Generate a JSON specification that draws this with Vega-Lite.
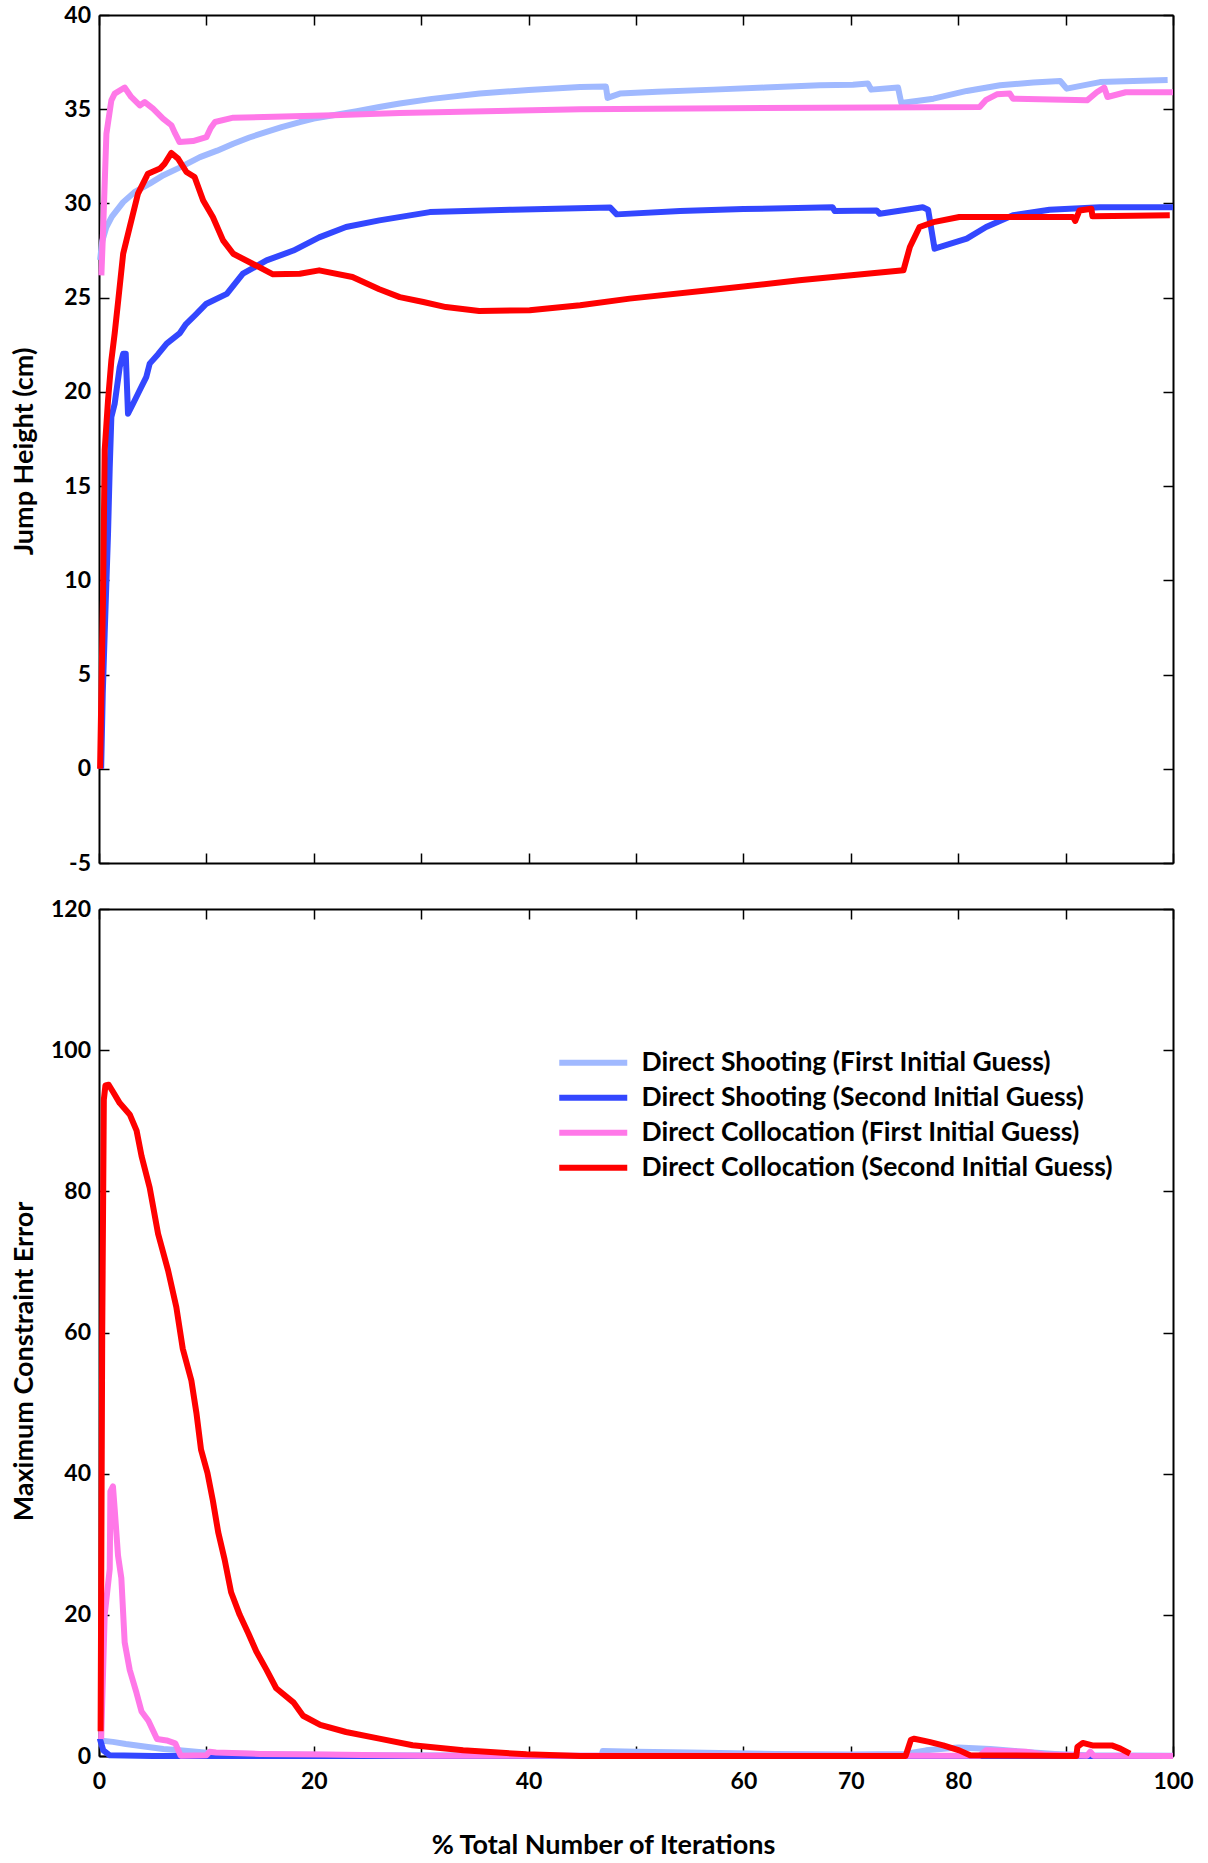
{
"$schema": "https://vega.github.io/schema/vega-lite/v6.json",
"background": "white",
"padding": {"left": 10, "top": 4, "right": 0, "bottom": 0},
"autosize": {"type": "pad"},
"config": {
 "view": {"stroke": null},
 "font": "Lato",
 "axis": {"domainColor": "black", "domainWidth": 2, "tickColor": "black", "tickWidth": 1.5, "tickSize": -10, "grid": false, "labelFlush": false,
  "labelFont": "Lato", "labelFontSize": 23, "labelFontWeight": "bold", "labelColor": "black",
  "titleFont": "Lato", "titleFontSize": 27, "titleFontWeight": "bold", "titleColor": "black"}
},
"datasets": {
"top": [
{"s":"A","x":0.1,"y":27.0},{"s":"A","x":0.3,"y":28.0},{"s":"A","x":0.69,"y":28.75},{"s":"A","x":1.2,"y":29.3},{"s":"A","x":2.25,"y":30.07},{"s":"A","x":3.3,"y":30.6},{"s":"A","x":4.72,"y":31.05},{"s":"A","x":6,"y":31.5},{"s":"A","x":7.5,"y":31.9},{"s":"A","x":9.4,"y":32.46},{"s":"A","x":11,"y":32.8},{"s":"A","x":12.5,"y":33.17},{"s":"A","x":14,"y":33.5},{"s":"A","x":15.6,"y":33.8},{"s":"A","x":17,"y":34.05},{"s":"A","x":18.7,"y":34.32},{"s":"A","x":20,"y":34.5},{"s":"A","x":21.8,"y":34.68},{"s":"A","x":24,"y":34.9},{"s":"A","x":26.1,"y":35.12},{"s":"A","x":28,"y":35.3},{"s":"A","x":31,"y":35.55},{"s":"A","x":35.45,"y":35.83},{"s":"A","x":40,"y":36.02},{"s":"A","x":44.8,"y":36.18},{"s":"A","x":47.2,"y":36.2},{"s":"A","x":47.35,"y":35.6},{"s":"A","x":48.5,"y":35.83},{"s":"A","x":52,"y":35.93},{"s":"A","x":57.2,"y":36.04},{"s":"A","x":62,"y":36.15},{"s":"A","x":67.1,"y":36.27},{"s":"A","x":70.2,"y":36.3},{"s":"A","x":71.6,"y":36.36},{"s":"A","x":71.9,"y":36.04},{"s":"A","x":74.4,"y":36.15},{"s":"A","x":74.7,"y":35.33},{"s":"A","x":77.7,"y":35.56},{"s":"A","x":80.8,"y":35.97},{"s":"A","x":83.9,"y":36.27},{"s":"A","x":87,"y":36.42},{"s":"A","x":89.5,"y":36.5},{"s":"A","x":90.1,"y":36.09},{"s":"A","x":93.2,"y":36.44},{"s":"A","x":96.3,"y":36.5},{"s":"A","x":99.5,"y":36.55},
{"s":"B","x":0.2,"y":0},{"s":"B","x":0.35,"y":4},{"s":"B","x":0.53,"y":7.2},{"s":"B","x":0.84,"y":12.47},{"s":"B","x":1.0,"y":16},{"s":"B","x":1.15,"y":18.66},{"s":"B","x":1.46,"y":19.37},{"s":"B","x":1.93,"y":21.32},{"s":"B","x":2.25,"y":22.03},{"s":"B","x":2.49,"y":22.03},{"s":"B","x":2.7,"y":18.84},{"s":"B","x":3.17,"y":19.37},{"s":"B","x":3.8,"y":20.1},{"s":"B","x":4.41,"y":20.8},{"s":"B","x":4.72,"y":21.5},{"s":"B","x":5.5,"y":22.0},{"s":"B","x":6.3,"y":22.56},{"s":"B","x":7.5,"y":23.1},{"s":"B","x":8.1,"y":23.6},{"s":"B","x":9,"y":24.1},{"s":"B","x":10,"y":24.68},{"s":"B","x":11.9,"y":25.2},{"s":"B","x":13.4,"y":26.27},{"s":"B","x":15.6,"y":26.98},{"s":"B","x":18.1,"y":27.5},{"s":"B","x":20.5,"y":28.2},{"s":"B","x":23,"y":28.75},{"s":"B","x":26.1,"y":29.1},{"s":"B","x":30.8,"y":29.54},{"s":"B","x":38.5,"y":29.67},{"s":"B","x":47.6,"y":29.78},{"s":"B","x":48.2,"y":29.42},{"s":"B","x":54.1,"y":29.6},{"s":"B","x":60,"y":29.7},{"s":"B","x":68.3,"y":29.8},{"s":"B","x":68.5,"y":29.6},{"s":"B","x":72.4,"y":29.63},{"s":"B","x":72.7,"y":29.45},{"s":"B","x":76.7,"y":29.8},{"s":"B","x":77.2,"y":29.67},{"s":"B","x":77.8,"y":27.6},{"s":"B","x":80.8,"y":28.13},{"s":"B","x":82.6,"y":28.75},{"s":"B","x":85.1,"y":29.37},{"s":"B","x":88.5,"y":29.67},{"s":"B","x":93.2,"y":29.8},{"s":"B","x":100,"y":29.8},
{"s":"C","x":0.22,"y":26.18},{"s":"C","x":0.37,"y":28.4},{"s":"C","x":0.69,"y":33.7},{"s":"C","x":1.15,"y":35.47},{"s":"C","x":1.46,"y":35.83},{"s":"C","x":2.39,"y":36.15},{"s":"C","x":3.0,"y":35.65},{"s":"C","x":3.8,"y":35.2},{"s":"C","x":4.26,"y":35.38},{"s":"C","x":5.03,"y":35.03},{"s":"C","x":5.96,"y":34.5},{"s":"C","x":6.74,"y":34.15},{"s":"C","x":7.1,"y":33.7},{"s":"C","x":7.5,"y":33.26},{"s":"C","x":8.75,"y":33.31},{"s":"C","x":10,"y":33.52},{"s":"C","x":10.4,"y":34.0},{"s":"C","x":10.8,"y":34.32},{"s":"C","x":12.5,"y":34.55},{"s":"C","x":21.8,"y":34.68},{"s":"C","x":28,"y":34.8},{"s":"C","x":44.8,"y":35.0},{"s":"C","x":67.1,"y":35.08},{"s":"C","x":82,"y":35.12},{"s":"C","x":82.6,"y":35.5},{"s":"C","x":83.6,"y":35.79},{"s":"C","x":84.8,"y":35.83},{"s":"C","x":85.1,"y":35.56},{"s":"C","x":92,"y":35.47},{"s":"C","x":92.9,"y":35.9},{"s":"C","x":93.6,"y":36.15},{"s":"C","x":93.9,"y":35.65},{"s":"C","x":95.6,"y":35.9},{"s":"C","x":100,"y":35.9},
{"s":"D","x":0.1,"y":0},{"s":"D","x":0.37,"y":8.93},{"s":"D","x":0.53,"y":16.9},{"s":"D","x":0.84,"y":19.55},{"s":"D","x":1.15,"y":21.67},{"s":"D","x":1.46,"y":23.1},{"s":"D","x":1.8,"y":24.9},{"s":"D","x":2.25,"y":27.33},{"s":"D","x":2.86,"y":28.75},{"s":"D","x":3.63,"y":30.52},{"s":"D","x":4.56,"y":31.58},{"s":"D","x":5.68,"y":31.85},{"s":"D","x":6.1,"y":32.1},{"s":"D","x":6.74,"y":32.68},{"s":"D","x":7.36,"y":32.38},{"s":"D","x":8.14,"y":31.67},{"s":"D","x":8.9,"y":31.4},{"s":"D","x":9.7,"y":30.16},{"s":"D","x":10.6,"y":29.28},{"s":"D","x":11.55,"y":28.04},{"s":"D","x":12.5,"y":27.33},{"s":"D","x":14.3,"y":26.8},{"s":"D","x":16.2,"y":26.24},{"s":"D","x":18.7,"y":26.27},{"s":"D","x":20.5,"y":26.45},{"s":"D","x":23.6,"y":26.1},{"s":"D","x":26.1,"y":25.45},{"s":"D","x":28,"y":25.03},{"s":"D","x":30.2,"y":24.77},{"s":"D","x":32.3,"y":24.5},{"s":"D","x":35.4,"y":24.29},{"s":"D","x":40.1,"y":24.33},{"s":"D","x":44.8,"y":24.6},{"s":"D","x":49.4,"y":24.95},{"s":"D","x":57.2,"y":25.42},{"s":"D","x":65.2,"y":25.92},{"s":"D","x":74.9,"y":26.45},{"s":"D","x":75.5,"y":27.69},{"s":"D","x":76.4,"y":28.75},{"s":"D","x":77.7,"y":29.01},{"s":"D","x":80.1,"y":29.28},{"s":"D","x":90.7,"y":29.28},{"s":"D","x":90.9,"y":29.07},{"s":"D","x":91.3,"y":29.63},{"s":"D","x":92.4,"y":29.72},{"s":"D","x":92.5,"y":29.32},{"s":"D","x":96.3,"y":29.35},{"s":"D","x":99.7,"y":29.37}
],
"bot": [
{"s":"A","x":0.07,"y":2.2},{"s":"A","x":1.3,"y":2.0},{"s":"A","x":2.5,"y":1.7},{"s":"A","x":4.4,"y":1.3},{"s":"A","x":6,"y":1.0},{"s":"A","x":7.5,"y":0.8},{"s":"A","x":10.6,"y":0.4},{"s":"A","x":16.9,"y":0.2},{"s":"A","x":25,"y":0.1},{"s":"A","x":40,"y":0.05},{"s":"A","x":46.8,"y":0.05},{"s":"A","x":46.9,"y":0.7},{"s":"A","x":50,"y":0.6},{"s":"A","x":55,"y":0.5},{"s":"A","x":63,"y":0.3},{"s":"A","x":70,"y":0.2},{"s":"A","x":75,"y":0.3},{"s":"A","x":77,"y":0.8},{"s":"A","x":80,"y":1.2},{"s":"A","x":83,"y":1.0},{"s":"A","x":86,"y":0.6},{"s":"A","x":89,"y":0.3},{"s":"A","x":92,"y":0.1},{"s":"A","x":100,"y":0.05},
{"s":"B","x":0.07,"y":2.5},{"s":"B","x":0.4,"y":0.8},{"s":"B","x":1.0,"y":0.1},{"s":"B","x":5,"y":0},{"s":"B","x":100,"y":0},
{"s":"C","x":0.2,"y":2.4},{"s":"C","x":0.53,"y":20},{"s":"C","x":1.0,"y":26.5},{"s":"C","x":1.06,"y":37.5},{"s":"C","x":1.3,"y":38.2},{"s":"C","x":1.46,"y":35},{"s":"C","x":1.77,"y":28.4},{"s":"C","x":2.08,"y":25.2},{"s":"C","x":2.39,"y":16.1},{"s":"C","x":2.86,"y":12.2},{"s":"C","x":3.5,"y":8.9},{"s":"C","x":3.96,"y":6.3},{"s":"C","x":4.6,"y":5.0},{"s":"C","x":5.4,"y":2.4},{"s":"C","x":6.3,"y":2.2},{"s":"C","x":7.1,"y":1.8},{"s":"C","x":7.6,"y":0.05},{"s":"C","x":10.0,"y":0.1},{"s":"C","x":10.3,"y":0.6},{"s":"C","x":10.9,"y":0.5},{"s":"C","x":15,"y":0.3},{"s":"C","x":21,"y":0.2},{"s":"C","x":30,"y":0.05},{"s":"C","x":82,"y":0.05},{"s":"C","x":82.6,"y":0.8},{"s":"C","x":86.3,"y":0.6},{"s":"C","x":88,"y":0.2},{"s":"C","x":92,"y":0.05},{"s":"C","x":92.3,"y":0.6},{"s":"C","x":92.6,"y":0.05},{"s":"C","x":100,"y":0},
{"s":"D","x":0.15,"y":3.5},{"s":"D","x":0.3,"y":60},{"s":"D","x":0.45,"y":93},{"s":"D","x":0.6,"y":95},{"s":"D","x":0.9,"y":95.1},{"s":"D","x":1.3,"y":94.1},{"s":"D","x":1.93,"y":92.5},{"s":"D","x":2.86,"y":90.9},{"s":"D","x":3.5,"y":88.6},{"s":"D","x":3.96,"y":85.0},{"s":"D","x":4.72,"y":80.5},{"s":"D","x":5.5,"y":74.0},{"s":"D","x":6.43,"y":68.8},{"s":"D","x":7.2,"y":63.6},{"s":"D","x":7.8,"y":57.7},{"s":"D","x":8.6,"y":53.2},{"s":"D","x":9.07,"y":48.6},{"s":"D","x":9.5,"y":43.4},{"s":"D","x":10.1,"y":40.1},{"s":"D","x":10.6,"y":36.2},{"s":"D","x":11.1,"y":31.7},{"s":"D","x":11.7,"y":27.8},{"s":"D","x":12.3,"y":23.2},{"s":"D","x":13.1,"y":20.0},{"s":"D","x":13.9,"y":17.4},{"s":"D","x":14.65,"y":14.8},{"s":"D","x":15.6,"y":12.2},{"s":"D","x":16.5,"y":9.6},{"s":"D","x":18.1,"y":7.6},{"s":"D","x":19.0,"y":5.7},{"s":"D","x":20.6,"y":4.4},{"s":"D","x":23,"y":3.4},{"s":"D","x":26.1,"y":2.46},{"s":"D","x":29.2,"y":1.52},{"s":"D","x":33.9,"y":0.8},{"s":"D","x":39.8,"y":0.24},{"s":"D","x":44.8,"y":0},{"s":"D","x":75.1,"y":0},{"s":"D","x":75.6,"y":2.3},{"s":"D","x":75.9,"y":2.45},{"s":"D","x":77.3,"y":2.0},{"s":"D","x":78.6,"y":1.5},{"s":"D","x":80.1,"y":0.8},{"s":"D","x":81.1,"y":0.1},{"s":"D","x":91.0,"y":0},{"s":"D","x":91.1,"y":1.3},{"s":"D","x":91.6,"y":1.85},{"s":"D","x":92.5,"y":1.5},{"s":"D","x":94.3,"y":1.5},{"s":"D","x":95.1,"y":1.04},{"s":"D","x":96,"y":0.33}
]
},
"spacing": 46,
"bounds": "flush",
"resolve": {"legend": {"color": "independent"}},
"vconcat": [
{
 "width": 1074, "height": 848,
 "data": {"name": "top"},
 "layer": [
  {"mark": {"type": "line", "strokeWidth": 6, "strokeJoin": "round"},
   "encoding": {
    "x": {"field": "x", "type": "quantitative", "scale": {"domain": [0, 100], "nice": false},
      "axis": {"orient": "bottom", "values": [0,10,20,30,40,50,60,70,80,90,100], "labels": false, "title": null}},
    "y": {"field": "y", "type": "quantitative", "scale": {"domain": [-5, 40], "nice": false},
      "axis": {"orient": "left", "values": [-5,0,5,10,15,20,25,30,35,40], "labelExpr": "'' + datum.value", "labelPadding": 18.5, "minExtent": 52, "maxExtent": 52, "titlePadding": 9, "title": "Jump Height (cm)", "titleY": 436}},
    "color": {"field": "s", "type": "nominal", "scale": {"domain": ["A","B","C","D"], "range": ["#a0b9ff","#3347ff","#ff78e8","#ff0000"]}, "legend": null}
   }},
  {"mark": {"type": "line", "opacity": 0},
   "encoding": {
    "x": {"field": "x", "type": "quantitative", "axis": {"orient": "top", "values": [0,10,20,30,40,50,60,70,80,90,100], "labels": false, "title": null}},
    "y": {"field": "y", "type": "quantitative", "axis": {"orient": "right", "values": [-5,0,5,10,15,20,25,30,35,40], "labels": false, "title": null}}
   }}
 ],
 "resolve": {"axis": {"x": "independent", "y": "independent"}}
},
{
 "width": 1074, "height": 847,
 "data": {"name": "bot"},
 "layer": [
  {"mark": {"type": "line", "strokeWidth": 6, "strokeJoin": "round"},
   "encoding": {
    "x": {"field": "x", "type": "quantitative", "scale": {"domain": [0, 100], "nice": false},
      "axis": {"orient": "bottom", "values": [0,10,20,30,40,50,60,70,80,90,100], "labelPadding": 24.5,
        "labelExpr": "indexof([0,20,40,60,70,80,100], datum.value) >= 0 ? datum.label : ''",
        "title": "% Total Number of Iterations", "titleX": 504, "titleY": 97, "titleBaseline": "alphabetic", "titleAnchor": "middle"}},
    "y": {"field": "y", "type": "quantitative", "scale": {"domain": [0, 120], "nice": false},
      "axis": {"orient": "left", "values": [0,20,40,60,80,100,120], "labelPadding": 18.5, "minExtent": 52, "maxExtent": 52, "titlePadding": 9, "title": "Maximum Constraint Error", "titleY": 452}},
    "color": {"field": "s", "type": "nominal", "scale": {"domain": ["A","B","C","D"], "range": ["#a0b9ff","#3347ff","#ff78e8","#ff0000"]},
      "legend": {"orient": "none", "legendX": 481, "legendY": 140.5, "title": null, "symbolType": "M-4.25,0H4.25", "symbolSize": 256, "symbolStrokeWidth": 6,
        "labelFont": "Lato", "labelFontSize": 26.5, "labelFontWeight": "bold", "labelColor": "black", "labelOffset": 35, "labelLimit": 700, "rowPadding": 8,
        "labelExpr": "{'A':'Direct Shooting (First Initial Guess)','B':'Direct Shooting (Second Initial Guess)','C':'Direct Collocation (First Initial Guess)','D':'Direct Collocation (Second Initial Guess)'}[datum.label]"}}
   }},
  {"mark": {"type": "line", "opacity": 0},
   "encoding": {
    "x": {"field": "x", "type": "quantitative", "axis": {"orient": "top", "values": [0,10,20,30,40,50,60,70,80,90,100], "labels": false, "title": null}},
    "y": {"field": "y", "type": "quantitative", "axis": {"orient": "right", "values": [0,20,40,60,80,100,120], "labels": false, "title": null}}
   }}
 ],
 "resolve": {"axis": {"x": "independent", "y": "independent"}}
}
]
}
